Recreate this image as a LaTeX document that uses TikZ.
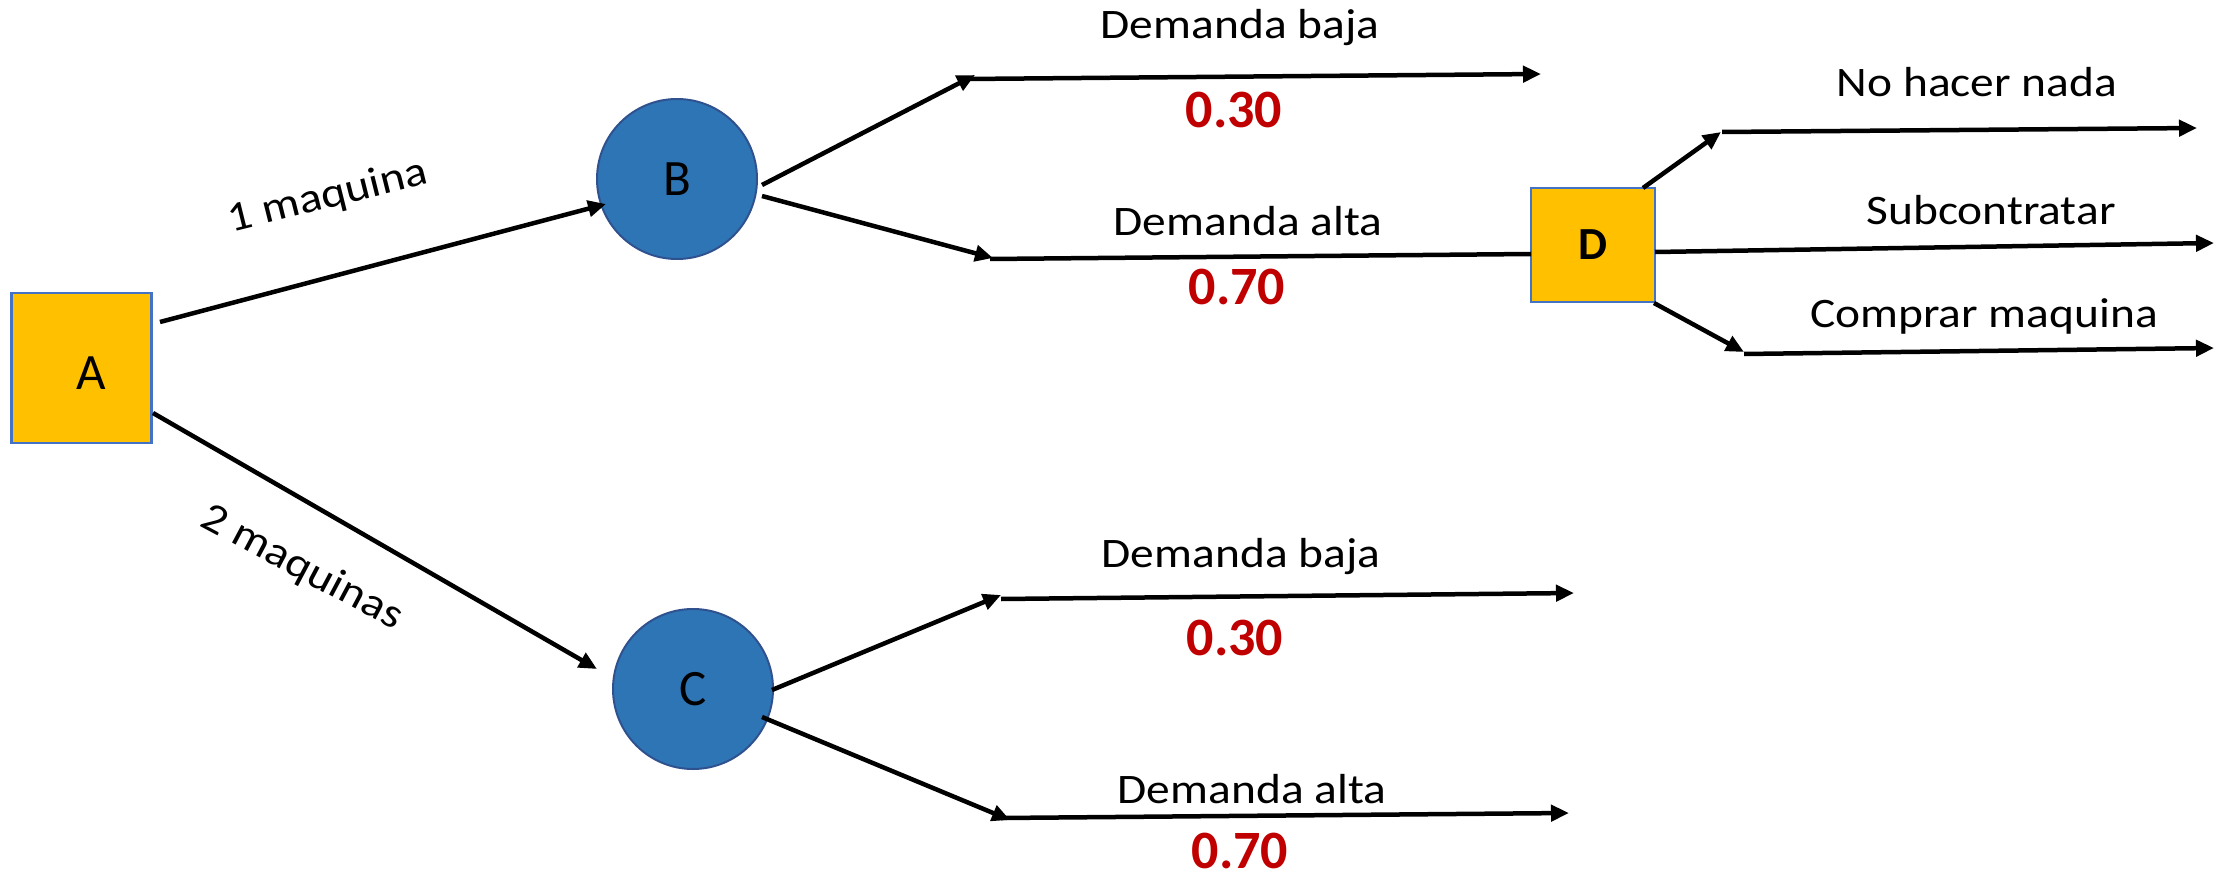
\documentclass[tikz,border=0pt]{standalone}
\usepackage{fontspec}
\setmainfont{Carlito}
\newfontfamily\widefont[FakeStretch=1.13]{Carlito}
\usetikzlibrary{arrows.meta}
\definecolor{boxfill}{HTML}{FFC000}
\definecolor{boxline}{HTML}{4472C4}
\definecolor{chancefill}{HTML}{2E75B6}
\definecolor{chanceline}{HTML}{2F528F}
\definecolor{probred}{HTML}{C00000}
\begin{document}
\begin{tikzpicture}[x=1pt,y=-1pt,
  decision/.style={rectangle,fill=boxfill,draw=boxline,line width=2.2pt,inner sep=0pt},
  chance/.style={circle,fill=chancefill,draw=chanceline,line width=2pt,minimum size=160pt,inner sep=0pt,
    font=\fontsize{51}{56}\selectfont},
  branch/.style={line width=4.5pt,-{Triangle[length=18pt,width=16pt]}},
  plainbranch/.style={line width=4.5pt},
  lbl/.style={font=\widefont\fontsize{42}{50}\selectfont,anchor=base,inner sep=0pt},
  prob/.style={font=\bfseries\fontsize{54}{60}\selectfont,text=probred,anchor=base,inner sep=0pt}]
\useasboundingbox (0,0) rectangle (2218,877);

% decision and chance nodes
\node[decision,minimum width=140pt,minimum height=150pt,
  label={[xshift=10pt,yshift=-5pt,font=\fontsize{51}{56}\selectfont]center:A}] (A) at (81.5,368) {};
\node[chance] (B) at (677,179) {B};
\node[chance] (C) at (693,689) {C};
\node[decision,minimum width=124pt,minimum height=114pt,
  font=\bfseries\fontsize{46}{50}\selectfont] (D) at (1593,245) {D};

% connector end points
\coordinate (a1) at (160,322);  \coordinate (a1t) at (606,204);
\coordinate (a2) at (153,413);  \coordinate (a2t) at (597,669);
\coordinate (b1s) at (762,185); \coordinate (b1) at (975,75);
\coordinate (b1a) at (967,79);  \coordinate (b1e) at (1541,74);
\coordinate (b2s) at (762,196); \coordinate (b2) at (993,258);
\coordinate (b2a) at (990,259); \coordinate (b2e) at (1531,254);
\coordinate (d1s) at (1643,188); \coordinate (d1) at (1721,132);
\coordinate (d1a) at (1722,132); \coordinate (d1e) at (2197,128);
\coordinate (d2s) at (1655,252); \coordinate (d2e) at (2214,243);
\coordinate (d3s) at (1654,303); \coordinate (d3) at (1744,352);
\coordinate (d3a) at (1744,354); \coordinate (d3e) at (2214,348);
\coordinate (c1s) at (772,690); \coordinate (c1) at (1001,595);
\coordinate (c1a) at (1001,599); \coordinate (c1e) at (1574,593);
\coordinate (c2s) at (762,717); \coordinate (c2) at (1010,820);
\coordinate (c2a) at (1001,818); \coordinate (c2e) at (1569,813);

% first decision
\draw[branch] (a1) -- (a1t);
\draw[branch] (a2) -- (a2t);
\node[lbl,anchor=center,rotate=14] (l1) at (328,197) {1 maquina};
\node[lbl,anchor=center,rotate=-28] (l2) at (302,568) {2 maquinas};

% outcomes of B
\draw[branch] (b1s) -- (b1);
\draw[branch] (b1a) -- (b1e);
\draw[branch] (b2s) -- (b2);
\draw[plainbranch] (b2a) -- (b2e);
\node[lbl] (tb1) at (1240,39) {Demanda baja};
\node[prob] (pb1) at (1234,128) {0.30};
\node[lbl] (tb2) at (1248,236) {Demanda alta};
\node[prob] (pb2) at (1237,305) {0.70};

% second decision
\draw[branch] (d1s) -- (d1);
\draw[branch] (d1a) -- (d1e);
\draw[branch] (d2s) -- (d2e);
\draw[branch] (d3s) -- (d3);
\draw[branch] (d3a) -- (d3e);
\node[lbl] (td1) at (1977,97) {No hacer nada};
\node[lbl] (td2) at (1991,225) {Subcontratar};
\node[lbl] (td3) at (1984,327) {Comprar maquina};

% outcomes of C
\draw[branch] (c1s) -- (c1);
\draw[branch] (c1a) -- (c1e);
\draw[branch] (c2s) -- (c2);
\draw[branch] (c2a) -- (c2e);
\node[lbl] (tc1) at (1241,567) {Demanda baja};
\node[prob] (pc1) at (1235,655) {0.30};
\node[lbl] (tc2) at (1252,803) {Demanda alta};
\node[prob] (pc2) at (1240,868) {0.70};
\end{tikzpicture}
\end{document}
